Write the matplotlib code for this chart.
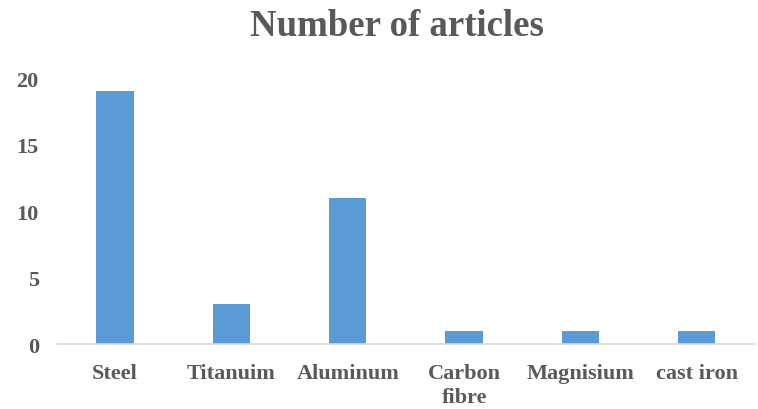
import matplotlib.pyplot as plt
import numpy as np

# Articles found per material
materials = ["Steel", "Titanuim", "Aluminum", "Carbon\nfibre", "Magnisium", "cast iron"]
articles = [19, 3, 11, 1, 1, 1]
y_ticks = [0, 5, 10, 15, 20]

plt.rcParams['font.family'] = ['Liberation Serif', 'DejaVu Serif']
text_color = "#595959"

fig = plt.figure(figsize=(7.58, 4.10), dpi=100)
ax = fig.add_axes([0.075, 0.1585, 0.921, 0.6485])

x = np.arange(len(materials))
ax.bar(x, articles, width=0.32, color="#5B9BD5")

ax.set_xlim(-0.5, len(materials) - 0.5)
ax.set_ylim(0, 20)
ax.set_yticks(y_ticks)
ax.set_xticks(x)
ax.set_xticklabels(materials, linespacing=1.25)

for spine in ["top", "right", "left"]:
    ax.spines[spine].set_visible(False)
ax.spines["bottom"].set_color("#D9D9D9")
ax.spines["bottom"].set_linewidth(1.2)

ax.tick_params(axis="both", length=0, labelsize=16, colors=text_color)
ax.tick_params(axis="y", pad=13)
ax.tick_params(axis="x", pad=14)
for lbl in ax.get_xticklabels() + ax.get_yticklabels():
    lbl.set_fontweight("bold")

fig.text(0.524, 0.935, "Number of articles", ha="center", va="center",
         fontsize=26.5, fontweight="bold", color=text_color)

fig.savefig("out.png", dpi=100)
